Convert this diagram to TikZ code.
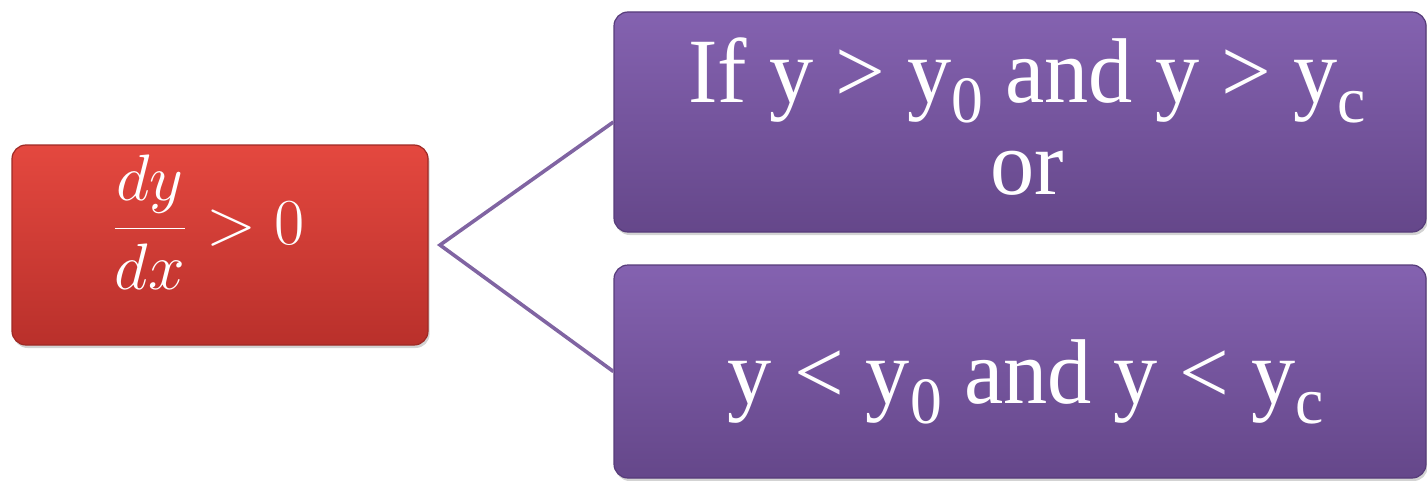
\documentclass[tikz,border=0pt]{standalone}
\usepackage{fontspec}
\setmainfont[FakeStretch=0.96]{Liberation Serif}
\usepackage{graphicx}
\usetikzlibrary{shadows}
\definecolor{redtop}{HTML}{E4483F}
\definecolor{redbot}{HTML}{B9302B}
\definecolor{rededge}{HTML}{9E2A25}
\definecolor{purtop}{HTML}{8462B0}
\definecolor{purbot}{HTML}{65478A}
\definecolor{puredge}{HTML}{573C7A}
\definecolor{lineclr}{HTML}{8064A2}
\newcommand\subs[1]{\raisebox{-0.22em}{\scalebox{0.72}{#1}}}
\begin{document}
\begin{tikzpicture}[x=0.5pt,y=-0.5pt,
  box/.style={rounded corners=7pt, inner sep=0pt, line width=0.6pt,
    drop shadow={shadow xshift=0.8pt,shadow yshift=-1.5pt,opacity=0.35}},
  bevel/.style={append after command={\pgfextra{\draw[white, opacity=0.22, line width=1.4pt, rounded corners=5pt]
    ([shift={(3pt,-3pt)}]\tikzlastnode.north west) rectangle ([shift={(-3pt,3pt)}]\tikzlastnode.south east);}}},
  redbox/.style={box, bevel, top color=redtop, bottom color=redbot, draw=rededge},
  purbox/.style={box, bevel, top color=purtop, bottom color=purbot, draw=puredge},
  txt/.style={text=white, inner sep=0pt, font=\fontsize{46}{46}\selectfont},
  conn/.style={draw=lineclr, line width=1.8pt}]
\useasboundingbox (0,0) rectangle (1427,481);
\node[redbox, minimum width=208pt, minimum height=100pt] (red) at (220,245) {};
\node[purbox, minimum width=406pt, minimum height=110pt] (top) at (1020,122) {};
\node[purbox, minimum width=406pt, minimum height=106.5pt] (bot) at (1020,371.5) {};
\coordinate (apex) at (440,245);
\draw[conn] (top.west) -- (apex) -- (bot.west);
\node[txt, font=\fontsize{24.88}{30}\selectfont] (cond) at (208,222) {\scalebox{1.32}{$\displaystyle\frac{dy}{dx}>0$}};
\node[txt, align=center, anchor=base] (t1) at (1027,194) {If y > y\subs{0} and y > y\subs{c}\\or};
\node[txt, anchor=base] (t2) at (1026,403) {y < y\subs{0} and y < y\subs{c}};
\end{tikzpicture}
\end{document}
